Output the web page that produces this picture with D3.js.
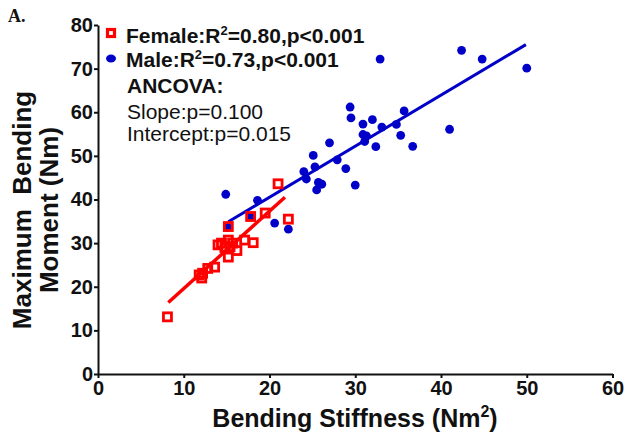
<!DOCTYPE html>
<html><head><meta charset="utf-8">
<script src="https://cdn.jsdelivr.net/npm/d3@7"></script>
<style>body{margin:0;background:#fff}svg{display:block}</style>
</head><body>
<script>
// Female (red squares)
const femaleX = [8.1, 11.8, 12.1, 12.2, 12.8, 13.6, 14.0, 14.4, 14.8, 15.2, 15.4, 15.7, 15.2, 16.2, 17.1, 18.1, 15.2, 17.8, 19.5, 22.2, 21.0];
const femaleY = [13.1, 22.7, 22.0, 23.1, 24.2, 24.5, 29.6, 30.0, 29.0, 30.7, 29.2, 30.0, 26.8, 28.3, 30.7, 30.1, 33.8, 36.1, 36.9, 35.5, 43.6];
// Male (blue dots)
const maleX = [14.9, 18.6, 20.6, 22.2, 15.1, 17.9, 24.0, 25.3, 24.3, 25.7, 26.1, 25.5, 25.1, 27.9, 28.9, 27.0, 30.0, 29.4, 29.5, 30.9, 32.0, 30.9, 31.3, 31.1, 32.4, 33.1, 34.8, 35.7, 35.3, 36.7, 41.0, 32.9, 42.4, 44.8, 50.0];
const maleY = [41.2, 39.8, 34.6, 33.2, 33.6, 36.2, 46.4, 47.5, 44.7, 43.9, 43.5, 42.2, 50.1, 49.1, 47.1, 53.0, 43.3, 61.2, 58.7, 57.3, 58.3, 54.9, 54.6, 53.3, 52.1, 56.6, 57.2, 60.3, 54.7, 52.2, 56.1, 72.2, 74.2, 72.2, 70.1];
// Regression lines (end points)
const femaleFitX = [8.2, 21.8];
const femaleFitY = [16.4, 40.5];
const maleFitX = [15.2, 49.9];
const maleFitY = [34.9, 75.5];
const xTicks = [0, 10, 20, 30, 40, 50, 60];
const yTicks = [0, 10, 20, 30, 40, 50, 60, 70, 80];

const W = 626, H = 437;
const RED = "#ff0000", BLUE = "#0000c8";
const svg = d3.select("body").append("svg").attr("width", W).attr("height", H);

const x = d3.scaleLinear().domain([0, 60]).range([98, 612.5]);
const y = d3.scaleLinear().domain([0, 80]).range([374, 25]);

const font = "'Liberation Sans', Arial, sans-serif";

// Axes
const xAxis = svg.append("g").attr("transform", `translate(0,${y(0)})`)
  .call(d3.axisBottom(x).tickValues(xTicks).tickSize(4).tickPadding(3).tickSizeOuter(0));
const yAxis = svg.append("g").attr("transform", `translate(${x(0)},0)`)
  .call(d3.axisLeft(y).tickValues(yTicks).tickSize(4).tickPadding(1).tickSizeOuter(0));
[xAxis, yAxis].forEach(a => {
  a.select(".domain").attr("stroke", "#111").attr("stroke-width", 2);
  a.selectAll(".tick line").attr("stroke", "#111").attr("stroke-width", 2);
  a.selectAll(".tick text").attr("fill", "#111").attr("font-family", font)
    .attr("font-weight", "bold").attr("font-size", 20);
});

// Male dots
svg.append("g").selectAll("circle").data(maleX.map((d, i) => [d, maleY[i]])).join("circle")
  .attr("cx", d => x(d[0])).attr("cy", d => y(d[1])).attr("r", 4.4).attr("fill", BLUE);

// Male fit line
const line = d3.line().x(d => x(d[0])).y(d => y(d[1]));
svg.append("path").datum(maleFitX.map((d, i) => [d, maleFitY[i]]))
  .attr("d", line).attr("stroke", BLUE).attr("stroke-width", 3).attr("fill", "none");

// Female squares
const s = 8;
svg.append("g").selectAll("rect").data(femaleX.map((d, i) => [d, femaleY[i]])).join("rect")
  .attr("x", d => x(d[0]) - s / 2).attr("y", d => y(d[1]) - s / 2)
  .attr("width", s).attr("height", s)
  .attr("fill", "none").attr("stroke", RED).attr("stroke-width", 2.8);

// Female fit line
svg.append("path").datum(femaleFitX.map((d, i) => [d, femaleFitY[i]]))
  .attr("d", line).attr("stroke", RED).attr("stroke-width", 3.5).attr("fill", "none");

// Panel label
svg.append("text").attr("x", 8).attr("y", 22).text("A.")
  .attr("font-family", "'Liberation Serif', 'Times New Roman', serif")
  .attr("font-weight", "bold").attr("font-size", 18).attr("fill", "#111");

// Legend
svg.append("rect").attr("x", 107.5).attr("y", 29.5).attr("width", 7).attr("height", 7)
  .attr("fill", "none").attr("stroke", RED).attr("stroke-width", 3.2);
svg.append("ellipse").attr("cx", 111).attr("cy", 58.5).attr("rx", 5).attr("ry", 4).attr("fill", BLUE);

function legendLine(yy, label, r2, p, weight) {
  const t = svg.append("text").attr("x", 126).attr("y", yy).attr("font-family", font)
    .attr("font-weight", weight).attr("font-size", 21).attr("fill", "#111");
  t.append("tspan").text(label + ":R");
  t.append("tspan").attr("font-size", 13).attr("dy", -8).text("2");
  t.append("tspan").attr("dy", 8).text("=" + r2 + ",p<" + p);
}
legendLine(43, "Female", "0.80", "0.001", "bold");
legendLine(67, "Male", "0.73", "0.001", "bold");
svg.append("text").attr("x", 127).attr("y", 93).text("ANCOVA:")
  .attr("font-family", font).attr("font-weight", "bold").attr("font-size", 21).attr("fill", "#111");
svg.append("text").attr("x", 127).attr("y", 119).text("Slope:p=0.100")
  .attr("font-family", font).attr("font-size", 21).attr("fill", "#111");
svg.append("text").attr("x", 127).attr("y", 141).text("Intercept:p=0.015")
  .attr("font-family", font).attr("font-size", 21).attr("fill", "#111");

// X title
const xt = svg.append("text").attr("x", 355).attr("y", 427).attr("text-anchor", "middle")
  .attr("font-family", font).attr("font-weight", "bold").attr("font-size", 25).attr("fill", "#111");
xt.append("tspan").text("Bending Stiffness (Nm");
xt.append("tspan").attr("font-size", 16).attr("dy", -10).text("2");
xt.append("tspan").attr("dy", 10).text(")");

// Y title
const yt = svg.append("g").attr("transform", "translate(0,210) rotate(-90)");
yt.append("text").attr("x", 0).attr("y", 31).attr("text-anchor", "middle").text("Maximum  Bending")
  .style("white-space", "pre")
  .attr("font-family", font).attr("font-weight", "bold").attr("font-size", 26).attr("fill", "#111");
yt.append("text").attr("x", 0).attr("y", 58).attr("text-anchor", "middle").text("Moment (Nm)")
  .attr("font-family", font).attr("font-weight", "bold").attr("font-size", 26).attr("fill", "#111");
</script>
</body></html>
